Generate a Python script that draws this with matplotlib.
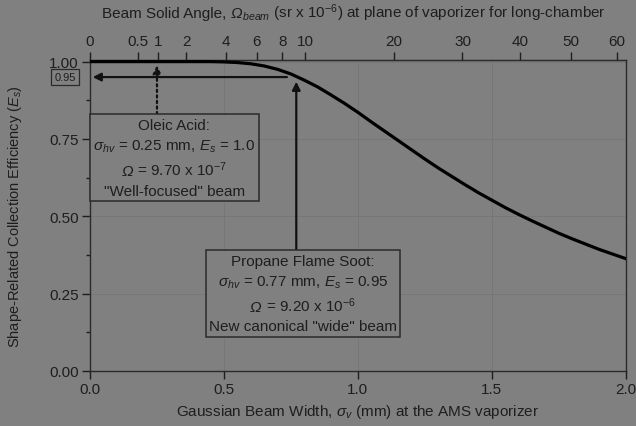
import numpy as np
import matplotlib.pyplot as plt
from matplotlib.offsetbox import TextArea, HPacker, VPacker, AnnotationBbox

plt.rcParams['font.family'] = ['Liberation Sans', 'DejaVu Sans']
plt.rcParams['mathtext.fontset'] = 'custom'
plt.rcParams['mathtext.rm'] = 'Liberation Sans'
plt.rcParams['mathtext.it'] = 'Liberation Sans:italic'

# curve: beam width (mm) vs shape-related efficiency
sigma = [0.0, 0.1, 0.2, 0.3, 0.4, 0.45, 0.5, 0.55, 0.6, 0.65, 0.7, 0.75,
         0.8, 0.85, 0.9, 0.95, 1.0, 1.05, 1.1, 1.15, 1.2, 1.25, 1.3, 1.35,
         1.4, 1.45, 1.5, 1.55, 1.6, 1.65, 1.7, 1.75, 1.8, 1.85, 1.9, 1.95, 2.0]
e_s = [1.0, 1.0, 1.0, 1.0, 1.0, 1.0, 0.999, 0.997, 0.993, 0.986, 0.975, 0.960,
       0.940, 0.918, 0.892, 0.865, 0.836, 0.805, 0.775, 0.745, 0.715, 0.685,
       0.656, 0.629, 0.602, 0.576, 0.552, 0.528, 0.506, 0.485, 0.465, 0.445,
       0.427, 0.410, 0.393, 0.378, 0.363]

# top axis: solid angle (x 1e-6 sr) = k * sigma^2
k_omega = 0.970 / 0.25**2
top_ticks = [0, 0.5, 1, 2, 4, 6, 8, 10, 20, 30, 40, 50, 60]
top_labels = ['0', '0.5', '1', '2', '4', '6', '8', '10', '20', '30', '40', '50', '60']

# the two marked cases
oleic_sigma, oleic_es = 0.25, 1.0
soot_sigma, soot_es = 0.77, 0.95
soot_arrow_start = 0.735

bg = '#808080'
ink = '#1e1e1e'
fs = 11


def txt(s, italic=False, size=fs):
    return TextArea(s, textprops=dict(fontsize=size, color=ink,
                                      fontstyle='italic' if italic else 'normal'))


def omega_line(rest, size=fs):
    return HPacker(children=[txt('Ω', True, size), txt(rest, size=size)],
                   align='baseline', pad=0, sep=0)


fig = plt.figure(figsize=(6.36, 4.27), dpi=100, facecolor=bg)
ax = fig.add_axes([0.1415, 0.129, 0.8425, 0.728], facecolor=bg)

ax.grid(True, color='#777777', linewidth=0.7)
ax.set_axisbelow(True)
ax.plot(sigma, e_s, color='black', linewidth=2.3, zorder=3)

ax.set_xlim(0, 2.0)
ax.set_ylim(0, 1.005)
ax.set_xticks([0.0, 0.5, 1.0, 1.5, 2.0])
ax.set_xticklabels(['0.0', '0.5', '1.0', '1.5', '2.0'])
ax.set_yticks([0.0, 0.25, 0.5, 0.75, 1.0])
ax.set_yticklabels(['0.00', '0.25', '0.50', '0.75', '1.00'])
ax.set_yticks([0.125, 0.375, 0.625, 0.875], minor=True)
ax.tick_params(which='both', direction='out', color=ink, labelcolor=ink,
               labelsize=fs, length=6, width=1, pad=2)
ax.tick_params(which='minor', length=3)
for s in ax.spines.values():
    s.set_color('#2a2a2a')
    s.set_linewidth(1)

ax.set_xlabel('Gaussian Beam Width, $\\sigma_v$ (mm) at the AMS vaporizer',
              color=ink, fontsize=fs, labelpad=4)
ax.set_ylabel('Shape-Related Collection Efficiency ($E_s$)',
              color=ink, fontsize=10.5, labelpad=18)

top = ax.secondary_xaxis('top', functions=(lambda x: k_omega * np.asarray(x)**2,
                                           lambda w: np.sqrt(np.clip(w, 0, None) / k_omega)))
top.set_xticks(top_ticks)
top.set_xticklabels(top_labels)
top.tick_params(direction='out', color=ink, labelcolor=ink, labelsize=fs,
                length=6, width=1, pad=3)
top.spines['top'].set_color('#2a2a2a')

# top axis title, with italic omega
top_title = HPacker(children=[txt('Beam Solid Angle, '), txt('Ω', True),
                              txt('$_{beam}$ (sr x 10$^{-6}$) at plane of vaporizer for long-chamber')],
                    align='baseline', pad=0, sep=0)
fig.add_artist(AnnotationBbox(top_title, (0.557, 0.968), xycoords='figure fraction',
                              frameon=False, box_alignment=(0.5, 0.5)))

# horizontal arrow at E_s = 0.95
ax.annotate('', xy=(0.01, soot_es), xytext=(soot_arrow_start, soot_es),
            arrowprops=dict(arrowstyle='-|>', color='#111111', lw=1.6,
                            mutation_scale=12, shrinkA=0, shrinkB=0))
ax.text(-0.092, soot_es, '0.95', ha='center', va='center',
        fontsize=8, color=ink, clip_on=False,
        bbox=dict(boxstyle='square,pad=0.3', facecolor=bg, edgecolor='#2a2a2a', lw=0.9))

# dotted arrow up from the oleic acid box
ax.annotate('', xy=(oleic_sigma, 0.988), xytext=(oleic_sigma, 0.83),
            arrowprops=dict(arrowstyle='-|>', color='#111111', lw=1.6,
                            linestyle=(0, (1, 1.5)), mutation_scale=12,
                            shrinkA=0, shrinkB=0))
# solid arrow up from the soot box
ax.annotate('', xy=(soot_sigma, 0.935), xytext=(soot_sigma, 0.39),
            arrowprops=dict(arrowstyle='-|>', color='#111111', lw=1.6,
                            mutation_scale=12, shrinkA=0, shrinkB=0))

box_props = dict(boxstyle='square,pad=0.25', facecolor=bg, edgecolor='#2a2a2a', lw=1.1)

oleic_box = VPacker(children=[
    txt('Oleic Acid:'),
    txt('$\\sigma_{hv}$ = %.2f mm, $E_s$ = %.1f' % (oleic_sigma, oleic_es)),
    omega_line(' = 9.70 x 10$^{-7}$'),
    txt('"Well-focused" beam')], align='center', pad=0, sep=4)
ab1 = AnnotationBbox(oleic_box, (0.315, 0.689), xycoords='data', pad=0.25,
                     bboxprops=box_props, zorder=4)
ax.add_artist(ab1)

soot_box = VPacker(children=[
    txt('Propane Flame Soot:'),
    txt('$\\sigma_{hv}$ = %.2f mm, $E_s$ = %.2f' % (soot_sigma, soot_es)),
    omega_line(' = 9.20 x 10$^{-6}$'),
    txt('New canonical "wide" beam')], align='center', pad=0, sep=4)
ab2 = AnnotationBbox(soot_box, (0.795, 0.25), xycoords='data', pad=0.25,
                     bboxprops=box_props, zorder=4)
ax.add_artist(ab2)

fig.savefig('out.png', dpi=100, facecolor=bg)
